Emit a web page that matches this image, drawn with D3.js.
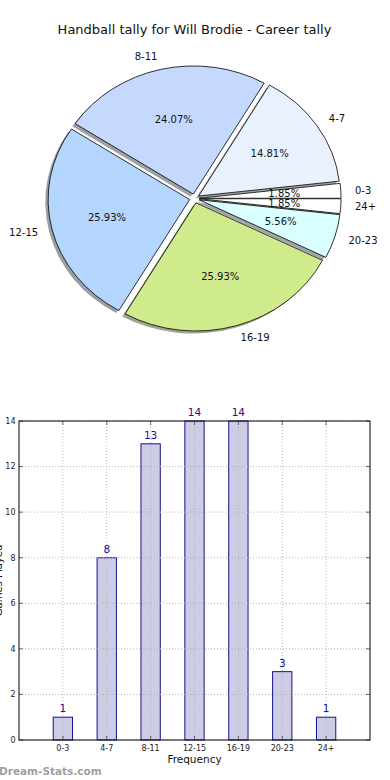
<!DOCTYPE html>
<html><head><meta charset="utf-8">
<script src="https://cdn.jsdelivr.net/npm/d3@7"></script>
<style>body{margin:0;background:#fff}svg{display:block}text{font-family:"DejaVu Sans",sans-serif}</style>
</head><body><svg id="c" width="390" height="780"></svg>
<script>
const titleText = "Handball tally for Will Brodie - Career tally";
const categories = ["0-3","4-7","8-11","12-15","16-19","20-23","24+"];
const counts = [1,8,13,14,14,3,1];
const pieColors = ["#ffffff","#eaf1fe","#c5d9fe","#b4d5fe","#d0eb8b","#daffff","#ffffff"];
const yTicks = [0,2,4,6,8,10,12,14];
const xLabel = "Frequency";
const yLabel = "Games Played";
const watermark = "Dream-Stats.com";

const svg = d3.select("#c");

// ---- Title
svg.append("text").attr("x",194.5).attr("y",34).attr("text-anchor","middle")
  .attr("font-size",13).attr("fill","#111").text(titleText);

// ---- Pie (elliptical, as in the reference)
const cx = 194.5, cy = 198.5, rx = 141.6, ry = 128.2, explode = 0.035;
const total = d3.sum(counts);
const pie = d3.pie().sort(null).startAngle(Math.PI/2).endAngle(Math.PI/2 - 2*Math.PI);
const arcs = pie(counts);
const arcGen = d3.arc().innerRadius(0).outerRadius(1);
const gPie = svg.append("g");
function dir(a){ const m=(a.startAngle+a.endAngle)/2; return [Math.sin(m), -Math.cos(m)]; }
// shadows first
arcs.forEach((a,i)=>{
  const [ux,uy]=dir(a);
  const c = d3.rgb(pieColors[i]);
  gPie.append("path").attr("d",arcGen(a))
    .attr("transform",`translate(${cx+explode*rx*ux-0.02*rx},${cy+explode*ry*uy+0.02*ry}) scale(${rx},${ry})`)
    .attr("fill",d3.rgb(c.r*0.3,c.g*0.3,c.b*0.3)).attr("fill-opacity",0.5).attr("stroke","none");
});
arcs.forEach((a,i)=>{
  const [ux,uy]=dir(a);
  gPie.append("path").attr("d",arcGen(a))
    .attr("transform",`translate(${cx+explode*rx*ux},${cy+explode*ry*uy}) scale(${rx},${ry})`)
    .attr("fill",pieColors[i]).attr("stroke","#000").attr("stroke-width",0.8)
    .attr("vector-effect","non-scaling-stroke").attr("stroke-linejoin","round");
});
arcs.forEach((a,i)=>{
  const [ux,uy]=dir(a);
  const lx = cx + (explode+1.1)*rx*ux, ly = cy + (explode+1.1)*ry*uy;
  gPie.append("text").attr("x",lx).attr("y",ly).attr("dy","0.35em")
    .attr("text-anchor", ux>0?"start":"end").attr("font-size",10).attr("fill","#111")
    .text(categories[i]);
  const px = cx + (explode+0.6)*rx*ux, py = cy + (explode+0.6)*ry*uy;
  gPie.append("text").attr("x",px).attr("y",py).attr("dy","0.35em")
    .attr("text-anchor","middle").attr("font-size",10).attr("fill","#111")
    .text((counts[i]/total*100).toFixed(2)+"%");
});

// ---- Bar chart
const L=19, R=370, T=421, B=740;
const x = d3.scaleLinear().domain([0,categories.length+1]).range([L,R]);
const y = d3.scaleLinear().domain([0,14]).range([B,T]);
const gBar = svg.append("g");
const bw = 0.44;
gBar.selectAll("rect.bar").data(counts).join("rect").attr("class","bar")
  .attr("x",(d,i)=>x(i+1-bw/2)).attr("width",x(bw)-x(0))
  .attr("y",d=>y(d)).attr("height",d=>y(0)-y(d))
  .attr("fill","#ccccE5").attr("stroke","#14148c").attr("stroke-width",1);
// grid on top
const grid = gBar.append("g").attr("stroke","#b4b4b4").attr("stroke-width",1).attr("stroke-dasharray","1,2");
categories.forEach((c,i)=>{
  grid.append("line").attr("x1",x(i+1)).attr("x2",x(i+1)).attr("y1",T).attr("y2",B);
});
yTicks.forEach(t=>{
  grid.append("line").attr("x1",L).attr("x2",R).attr("y1",y(t)).attr("y2",y(t));
});
// ticks inward
const tk = gBar.append("g").attr("stroke","#444").attr("stroke-width",0.8);
yTicks.forEach(t=>{
  tk.append("line").attr("x1",L).attr("x2",L+4).attr("y1",y(t)).attr("y2",y(t));
  tk.append("line").attr("x1",R-4).attr("x2",R).attr("y1",y(t)).attr("y2",y(t));
});
categories.forEach((c,i)=>{
  tk.append("line").attr("x1",x(i+1)).attr("x2",x(i+1)).attr("y1",B).attr("y2",B-4);
  tk.append("line").attr("x1",x(i+1)).attr("x2",x(i+1)).attr("y1",T).attr("y2",T+4);
});
// frame
gBar.append("rect").attr("x",L).attr("y",T).attr("width",R-L).attr("height",B-T)
  .attr("fill","none").attr("stroke","#000").attr("stroke-width",1);
// tick labels
yTicks.forEach(t=>{
  gBar.append("text").attr("x",L-3.5).attr("y",y(t)).attr("dy","0.35em").attr("text-anchor","end")
    .attr("font-size",8).attr("fill","#222").text(t);
});
categories.forEach((c,i)=>{
  gBar.append("text").attr("x",x(i+1)).attr("y",750.5).attr("text-anchor","middle")
    .attr("font-size",8).attr("fill","#222").text(c);
});
// value labels
counts.forEach((d,i)=>{
  gBar.append("text").attr("x",x(i+1)).attr("y",y(d)-5).attr("text-anchor","middle")
    .attr("font-size",10.5).attr("fill","#14148c").text(d);
});
// axis labels
gBar.append("text").attr("x",194.5).attr("y",763).attr("text-anchor","middle")
  .attr("font-size",10.5).attr("fill","#111").text(xLabel);
gBar.append("text").attr("transform",`translate(1.5,${(T+B)/2}) rotate(-90)`).attr("text-anchor","middle")
  .attr("font-size",10).attr("fill","#111").text(yLabel);
// watermark
svg.append("text").attr("x",-1).attr("y",774.5).attr("font-size",10.5).attr("font-weight","bold")
  .attr("fill","#a0a0a0").text(watermark);
</script></body></html>
